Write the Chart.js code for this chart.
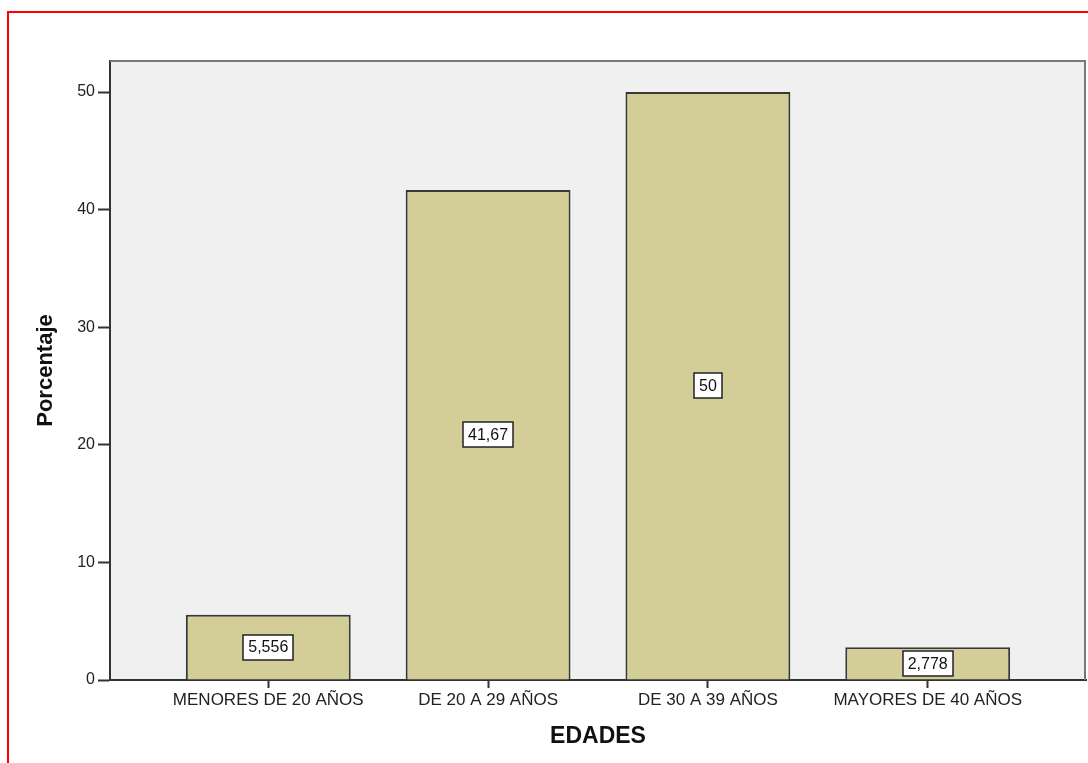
<!DOCTYPE html>
<html>
<head>
<meta charset="utf-8">
<script src="https://cdn.jsdelivr.net/npm/chart.js@4/dist/chart.umd.min.js"></script>
<style>
  body { margin: 0; background: #fff; overflow: hidden; }
  #frame { position: absolute; left: 7px; top: 11px; width: 1200px; height: 900px; border: 2px solid #ff0000; }
  #chart { position: absolute; left: 0; top: 0; }
</style>
</head>
<body>
<div id="frame"></div>
<canvas id="chart" width="1088" height="763"></canvas>
<script>
// edades y porcentajes
const categories = ["MENORES DE 20 AÑOS", "DE 20 A 29 AÑOS", "DE 30 A 39 AÑOS", "MAYORES DE 40 AÑOS"];
const percentages = [5.556, 41.67, 50, 2.778];
const yTicks = [0, 10, 20, 30, 40, 50];

const FONT = "'Liberation Sans', Arial, sans-serif";

// fondo gris del area de trazado + borde superior y derecho
const plotBackground = {
  id: "plotBackground",
  beforeDraw(chart) {
    const { ctx, chartArea: a } = chart;
    ctx.save();
    ctx.fillStyle = "#f0f0f0";
    ctx.fillRect(a.left, a.top, a.right - a.left, a.bottom - a.top);
    ctx.restore();
  },
  afterDraw(chart) {
    const { ctx, chartArea: a } = chart;
    ctx.save();
    ctx.strokeStyle = "#777777";
    ctx.lineWidth = 2;
    ctx.beginPath();
    ctx.moveTo(a.left, a.top);
    ctx.lineTo(a.right - 1, a.top);
    ctx.lineTo(a.right - 1, a.bottom);
    ctx.stroke();
    ctx.restore();
  }
};

// etiquetas con el valor en el centro de cada barra
const barLabels = {
  id: "barLabels",
  afterDatasetsDraw(chart) {
    const { ctx } = chart;
    const meta = chart.getDatasetMeta(0);
    ctx.save();
    ctx.font = "16px " + FONT;
    ctx.textAlign = "center";
    ctx.textBaseline = "middle";
    meta.data.forEach((bar, i) => {
      const text = String(percentages[i]).replace(".", ",");
      const w = ctx.measureText(text).width + 10;
      const h = 25;
      const cx = bar.x;
      const cy = (bar.y + bar.base) / 2;
      ctx.fillStyle = "#ffffff";
      ctx.fillRect(Math.round(cx - w / 2), Math.round(cy - h / 2), Math.round(w), h);
      ctx.strokeStyle = "#222222";
      ctx.lineWidth = 1.5;
      ctx.strokeRect(Math.round(cx - w / 2), Math.round(cy - h / 2), Math.round(w), h);
      ctx.fillStyle = "#111111";
      ctx.fillText(text, cx, cy + 1);
    });
    ctx.restore();
  }
};

const points = categories.map((c, i) => ({ x: i, y: percentages[i] }));

new Chart(document.getElementById("chart"), {
  type: "bar",
  data: {
    datasets: [{
      data: points,
      backgroundColor: "#d3ce97",
      borderColor: "#383838",
      borderWidth: 2,
      barPercentage: 0.75,
      categoryPercentage: 1
    }]
  },
  options: {
    responsive: false,
    animation: false,
    layout: { padding: { top: 61, right: 2, left: 0, bottom: 0 } },
    plugins: { legend: { display: false }, tooltip: { enabled: false } },
    scales: {
      x: {
        type: "linear",
        min: -0.72,
        max: 3.72,
        offset: false,
        afterFit(scale) { scale.height = 83; },
        afterBuildTicks(scale) { scale.ticks = categories.map((c, i) => ({ value: i })); },
        ticks: {
          autoSkip: false,
          maxRotation: 0,
          includeBounds: false,
          padding: 2,
          color: "#222222",
          font: { family: FONT, size: 17 },
          callback: (v) => categories[v]
        },
        grid: { offset: false, drawOnChartArea: false, drawTicks: true, tickLength: 8, tickColor: "#333333", tickWidth: 2 },
        border: { color: "#333333", width: 2 },
        title: {
          display: true,
          text: "EDADES",
          color: "#111111",
          font: { family: FONT, size: 23, weight: "bold" },
          padding: { top: 0, bottom: 13 }
        }
      },
      y: {
        min: 0,
        max: 52.64,
        afterFit(scale) { scale.width = 110; },
        afterBuildTicks(scale) { scale.ticks = yTicks.map((v) => ({ value: v })); },
        ticks: {
          includeBounds: false,
          padding: 3,
          color: "#222222",
          font: { family: FONT, size: 16 }
        },
        grid: { drawOnChartArea: false, drawTicks: true, tickLength: 12, tickColor: "#333333", tickWidth: 2 },
        border: { color: "#333333", width: 2 },
        title: {
          display: true,
          text: "Porcentaje",
          color: "#111111",
          font: { family: FONT, size: 22, weight: "bold" },
          padding: { top: 33, bottom: 0 }
        }
      }
    }
  },
  plugins: [plotBackground, barLabels]
});
</script>
</body>
</html>
